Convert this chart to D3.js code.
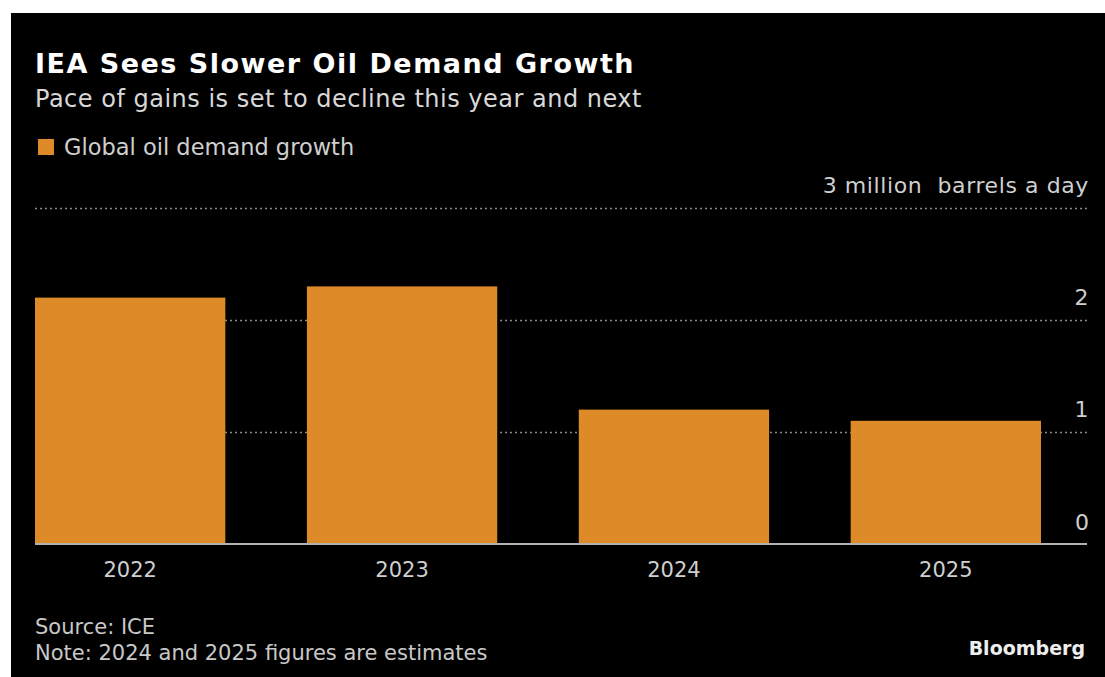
<!DOCTYPE html>
<html>
<head>
<meta charset="utf-8">
<script src="https://cdn.jsdelivr.net/npm/d3@7"></script>
<style>
  html, body { margin: 0; padding: 0; background: #fff; }
  svg { display: block; font-family: "DejaVu Sans", Verdana, sans-serif; }
</style>
</head>
<body>
<svg id="chart" width="1105" height="677"></svg>
<script>
// Data
const years = ['2022', '2023', '2024', '2025'];
const demandGrowth = [2.2, 2.3, 1.2, 1.1]; // million barrels a day
const yTicks = [0, 1, 2, 3];
const yTickLabels = ['0', '1', '2', '3 million  barrels a day'];

/**
 * Visual configs.
 */
const W = 1105, H = 677;
const plot = { left: 35, right: 1087, top: 208, bottom: 544 };
const barColor = '#dd8a28';

const svg = d3.select('#chart');

// Black card with a thin white margin on top/left
svg.append('rect')
    .attr('x', 11).attr('y', 13)
    .attr('width', W - 11).attr('height', H - 13)
    .attr('fill', '#000');

/**
 * Scales.
 */
const x = d3.scaleBand()
    .domain(years)
    .range([plot.left, 1041])
    .paddingInner(0.3)
    .paddingOuter(0);

const y = d3.scaleLinear()
    .domain([0, 3])
    .range([plot.bottom, plot.top]);

/**
 * Titles and legend.
 */
svg.append('text')
    .attr('x', 35).attr('y', 73)
    .attr('fill', '#fff')
    .attr('font-weight', 'bold')
    .attr('font-size', 27)
    .attr('letter-spacing', 1.5)
    .text('IEA Sees Slower Oil Demand Growth');

svg.append('text')
    .attr('x', 35).attr('y', 107)
    .attr('fill', '#d8d8d8')
    .attr('font-size', 24)
    .attr('letter-spacing', 0.5)
    .text('Pace of gains is set to decline this year and next');

svg.append('rect')
    .attr('x', 38).attr('y', 139)
    .attr('width', 16).attr('height', 16)
    .attr('fill', barColor);

svg.append('text')
    .attr('x', 64).attr('y', 155)
    .attr('fill', '#cfcfcf')
    .attr('font-size', 22.5)
    .text('Global oil demand growth');

/**
 * Y axis with dotted gridlines, labels sitting above the lines at right.
 */
const yAxis = d3.axisLeft(y)
    .tickValues(yTicks.filter(d => d > 0))
    .tickSize(plot.right - plot.left)
    .tickFormat(d => yTickLabels[yTicks.indexOf(d)]);

const yG = svg.append('g')
    .attr('transform', `translate(${plot.right},0)`)
    .call(yAxis);

yG.select('.domain').remove();
yG.selectAll('.tick line')
    .attr('stroke', '#8a8a8a')
    .attr('stroke-width', 1.5)
    .attr('stroke-dasharray', '2,3');
yG.selectAll('.tick text')
    .attr('x', 2)
    .attr('dy', '-0.72em')
    .attr('text-anchor', 'end')
    .attr('fill', '#cfcfcf')
    .attr('font-size', 22)
    .attr('letter-spacing', 0.6)
    .style('white-space', 'pre')
    .attr('font-family', '"DejaVu Sans", Verdana, sans-serif');

// Zero label
svg.append('text')
    .attr('x', plot.right + 2).attr('y', y(0) - 14)
    .attr('text-anchor', 'end')
    .attr('fill', '#cfcfcf')
    .attr('font-size', 22)
    .text(yTickLabels[0]);

/**
 * Bars.
 */
svg.append('g').selectAll('rect')
    .data(years)
    .join('rect')
    .attr('x', d => x(d))
    .attr('y', (d, i) => y(demandGrowth[i]))
    .attr('width', x.bandwidth())
    .attr('height', (d, i) => y(0) - y(demandGrowth[i]))
    .attr('fill', barColor);

// Baseline
svg.append('line')
    .attr('x1', plot.left).attr('x2', plot.right)
    .attr('y1', y(0)).attr('y2', y(0))
    .attr('stroke', '#b0b0b0')
    .attr('stroke-width', 2);

/**
 * X axis.
 */
const xG = svg.append('g')
    .attr('transform', `translate(0,${y(0)})`)
    .call(d3.axisBottom(x).tickSize(0).tickPadding(18));

xG.select('.domain').remove();
xG.selectAll('.tick text')
    .attr('fill', '#cfcfcf')
    .attr('font-size', 21)
    .attr('font-family', '"DejaVu Sans", Verdana, sans-serif');

/**
 * Footer.
 */
svg.append('text')
    .attr('x', 35).attr('y', 634)
    .attr('fill', '#c8c8c8')
    .attr('font-size', 21)
    .text('Source: ICE');

svg.append('text')
    .attr('x', 35).attr('y', 660)
    .attr('fill', '#c8c8c8')
    .attr('font-size', 21)
    .text('Note: 2024 and 2025 figures are estimates');

svg.append('text')
    .attr('x', 1085).attr('y', 655)
    .attr('text-anchor', 'end')
    .attr('fill', '#eee')
    .attr('font-weight', 'bold')
    .attr('font-size', 19)
    .text('Bloomberg');
</script>
</body>
</html>
